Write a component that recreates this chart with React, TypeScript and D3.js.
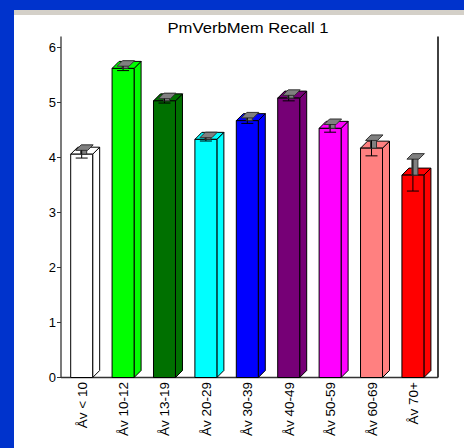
import React from "react";
import * as d3 from "d3";

const categories = ["Åv < 10", "Åv 10-12", "Åv 13-19", "Åv 20-29", "Åv 30-39", "Åv 40-49", "Åv 50-59", "Åv 60-69", "Åv 70+"];
const means = [4.06, 5.62, 5.03, 4.33, 4.67, 5.08, 4.53, 4.17, 3.68];
const errors = [0.07, 0.04, 0.04, 0.03, 0.05, 0.05, 0.07, 0.14, 0.29];
const colors = ["#FFFFFF", "#00FF00", "#007000", "#00FFFF", "#0000FF", "#760076", "#FF00FF", "#FF8080", "#FF0000"];
const yTicks = [0, 1, 2, 3, 4, 5, 6];
const title = "PmVerbMem Recall 1";

export default function App() {
  const W = 464, H = 448;
  const x = d3.scaleBand<string>().domain(categories).range([61, 433.6]).paddingInner(0.469).paddingOuter(0.234);
  const y = d3.scaleLinear().domain([0, 6]).range([377.5, 47.5]);
  const D = 7; // 3D depth
  const font = "Liberation Sans, Arial, sans-serif";
  return (
    <svg width={W} height={H} style={{ position: "absolute", left: 0, top: 0 }} fontFamily={font}>
      <rect x={0} y={0} width={W} height={H} fill="#0033CC" />
      <rect x={14} y={10} width={W - 14} height={H - 10} fill="#FFFFFF" />
      <rect x={14} y={10} width={W - 14} height={5} fill="#D4D0C8" />
      <text x={248} y={33} textAnchor="middle" fontSize={15} fill="#000" textLength={161} lengthAdjust="spacingAndGlyphs">{title}</text>
      {/* axes */}
      <line x1={61} x2={61} y1={36.5} y2={y(0)} stroke="#333" strokeWidth={1.3} />
      <line x1={438} x2={438} y1={36.5} y2={y(0)} stroke="#111" strokeWidth={1.6} />
      <line x1={61} x2={438} y1={y(0)} y2={y(0)} stroke="#333" strokeWidth={1.3} />
      {yTicks.map((t) => (
        <g key={t}>
          <line x1={57} x2={61} y1={y(t)} y2={y(t)} stroke="#333" />
          <text x={56} y={y(t) + 4.5} textAnchor="end" fontSize={13} fill="#000">{t}</text>
        </g>
      ))}
      {categories.map((c, i) => {
        const x0 = x(c)!;
        const bw = x.bandwidth();
        const x1 = x0 + bw;
        const yt = y(means[i]);
        const yb = y(0);
        const col = colors[i];
        const cx = x0 + bw / 2;
        const e = y(0) - y(errors[i]);
        return (
          <g key={c} stroke="#000" strokeWidth={1} strokeLinejoin="round">
            <polygon points={`${x1},${yb} ${x1 + D},${yb - D} ${x1 + D},${yt - D} ${x1},${yt}`} fill={col} />
            <polygon points={`${x0},${yt} ${x0 + D},${yt - D} ${x1 + D},${yt - D} ${x1},${yt}`} fill={col} />
            <rect x={x0} y={yt} width={bw} height={yb - yt} fill={col} />
            {/* lower whisker */}
            <line x1={cx} x2={cx} y1={yt} y2={yt + e} stroke="#000" />
            <line x1={cx - 6} x2={cx + 6} y1={yt + e} y2={yt + e} stroke="#000" />
            {/* upper 3D whisker */}
            <rect x={cx - 1} y={yt - e - 1} width={6} height={e + 1} fill="#808080" stroke="#333" />
            <polygon points={`${cx - 6},${yt - e} ${cx + 6},${yt - e} ${cx + 11.5},${yt - e - 5.5} ${cx - 0.5},${yt - e - 5.5}`} fill="#808080" stroke="#333" />
            <line x1={cx} x2={cx} y1={yt - e} y2={yt} stroke="#000" />
          </g>
        );
      })}
      {categories.map((c) => {
        const cx = x(c)! + x.bandwidth() / 2;
        return (
          <text key={c} transform={`translate(${cx + 5},382) rotate(-90)`} textAnchor="end" fontSize={13.5} fill="#000">{c}</text>
        );
      })}
    </svg>
  );
}
